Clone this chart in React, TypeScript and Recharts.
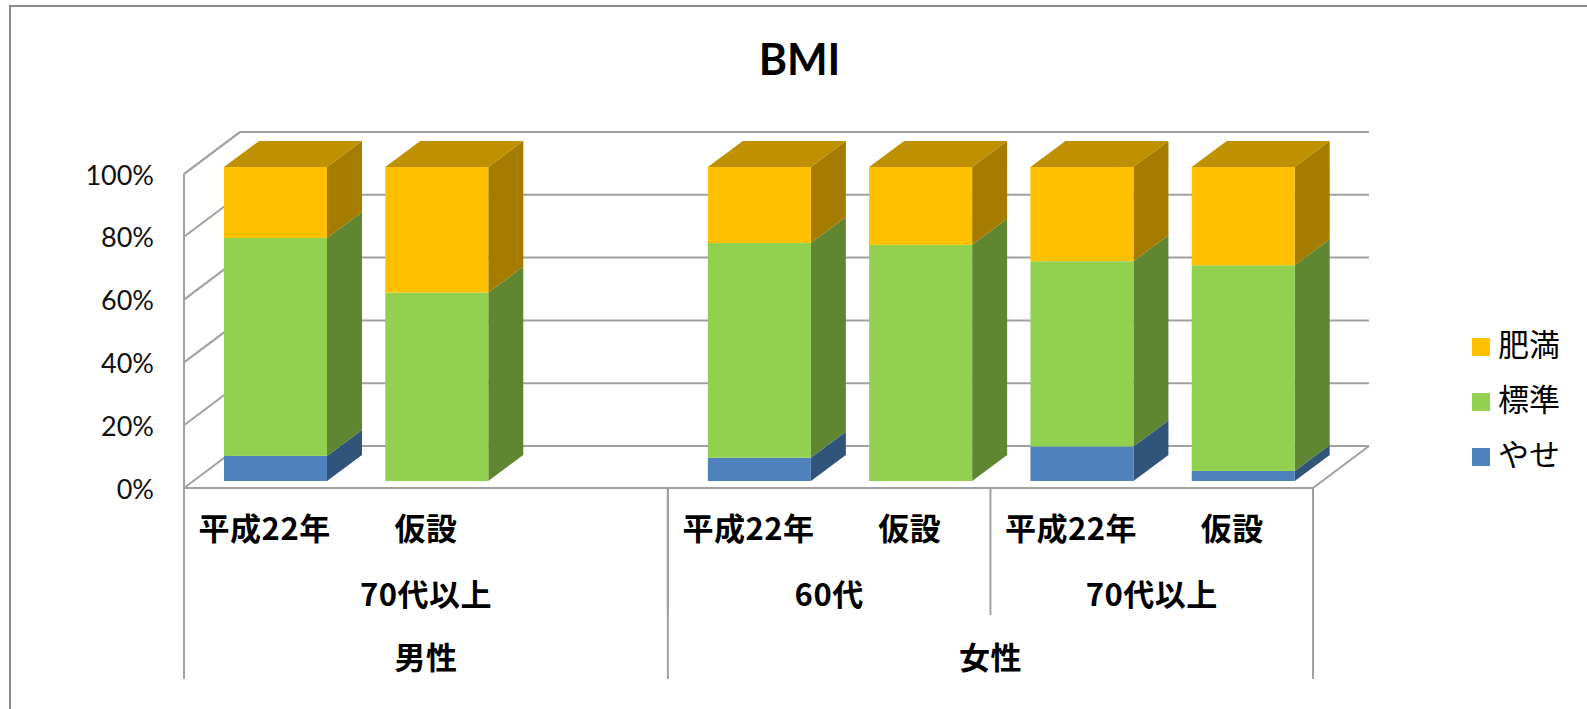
import { BarChart, Bar, XAxis, YAxis, CartesianGrid, Legend } from 'recharts';

const years = ['平成22年', '仮設', '', '平成22年', '仮設', '平成22年', '仮設'];
const yase = [8, 0, null, 7.4, 0, 11, 3.2];
const hyojun = [69.4, 60, null, 68.4, 75.2, 59, 65.5];
const himan = [22.6, 40, null, 24.2, 24.8, 30, 31.3];

const ageGroups = ['70代以上', '60代', '70代以上'];
const ageSpans = [3, 2, 2];
const genderGroups = ['男性', '女性'];
const genderSpans = [3, 4];

const yTicks = [0, 20, 40, 60, 80, 100];

const data = years.map((year, i) => ({
  year,
  やせ: yase[i],
  標準: hyojun[i],
  肥満: himan[i],
}));

const GRID = '#a0a0a0';
const JP = '"Noto Sans CJK JP", sans-serif';
const LATIN = 'Lato, sans-serif';

// floor / wall depth of the fake 3D box
const WALL_DX = 56;
const WALL_DY = 42;
// depth of each column, and how far it sits back from the front edge
const BAR_DX = 35;
const BAR_DY = 26;
const BAR_IN_X = 11;
const BAR_IN_Y = 7;

function Block({ x, y, width, height, fill, side, top }: any) {
  if (!height || height <= 0) return null;
  const l = x + BAR_IN_X;
  const t = y - BAR_IN_Y;
  const r = l + width;
  const b = t + height;
  return (
    <g>
      <polygon
        points={`${r},${t} ${r + BAR_DX},${t - BAR_DY} ${r + BAR_DX},${b - BAR_DY} ${r},${b}`}
        fill={side}
      />
      {top && (
        <polygon
          points={`${l},${t} ${l + BAR_DX},${t - BAR_DY} ${r + BAR_DX},${t - BAR_DY} ${r},${t}`}
          fill={top}
        />
      )}
      <rect x={l} y={t} width={width} height={height} fill={fill} />
    </g>
  );
}

function GridLine(props: any) {
  const { x1, x2, y1, y, height } = props;
  const isFloor = Math.abs(y1 - (y + height)) < 1;
  return (
    <g stroke={GRID} strokeWidth={2} fill="none">
      <line x1={x1} y1={y1} x2={x1 + WALL_DX} y2={y1 - WALL_DY} />
      <line x1={x1 + WALL_DX} y1={y1 - WALL_DY} x2={x2 + WALL_DX} y2={y1 - WALL_DY} />
      {isFloor && <line x1={x2} y1={y1} x2={x2 + WALL_DX} y2={y1 - WALL_DY} />}
    </g>
  );
}

// where a group starting at tick `start` begins, in bands
function groupAt(spans: number[], index: number) {
  let start = 0;
  for (let g = 0; g < spans.length; g++) {
    if (start === index) return g;
    start += spans[g];
  }
  return -1;
}

const labelStyle = { fontFamily: JP, fontSize: 31, fontWeight: 700, fill: '#000', letterSpacing: 0.5 };

// three-level category axis: year, age group, gender
function MultiTick(props: any) {
  const { y, payload, index, width } = props;
  const band = width / years.length;
  const left = payload.coordinate - band / 2;
  const age = groupAt(ageSpans, index);
  const gender = groupAt(genderSpans, index);
  return (
    <g>
      <text x={payload.coordinate} y={y + 38} textAnchor="middle" dominantBaseline="central" {...labelStyle}>
        {payload.value}
      </text>
      {age >= 0 && (
        <>
          <line x1={left} x2={left} y1={y} y2={y + 127} stroke={GRID} strokeWidth={2} />
          <text
            x={left + (ageSpans[age] * band) / 2}
            y={y + 104}
            textAnchor="middle"
            dominantBaseline="central"
            {...labelStyle}
          >
            {ageGroups[age]}
          </text>
        </>
      )}
      {gender >= 0 && (
        <>
          <line x1={left} x2={left} y1={y} y2={y + 191} stroke={GRID} strokeWidth={2} />
          <text
            x={left + (genderSpans[gender] * band) / 2}
            y={y + 167}
            textAnchor="middle"
            dominantBaseline="central"
            {...labelStyle}
          >
            {genderGroups[gender]}
          </text>
        </>
      )}
      {index === years.length - 1 && (
        <line x1={left + band} x2={left + band} y1={y} y2={y + 191} stroke={GRID} strokeWidth={2} />
      )}
    </g>
  );
}

function LegendList({ payload }: any) {
  return (
    <div>
      {[...(payload || [])].reverse().map((item: any) => (
        <div
          key={item.value}
          style={{ display: 'flex', alignItems: 'center', height: 55, fontFamily: JP, fontSize: 31, color: '#000' }}
        >
          <span style={{ width: 18, height: 18, background: item.color, marginRight: 8 }} />
          <span style={{ position: 'relative', top: -4 }}>{item.value}</span>
        </div>
      ))}
    </div>
  );
}

export default function App() {
  return (
    <div style={{ position: 'fixed', left: 0, top: 0, width: 1587, height: 709, background: '#fff', overflow: 'hidden' }}>
      <div
        style={{
          position: 'absolute',
          left: 9,
          top: 5,
          right: 0,
          bottom: 0,
          borderLeft: '2px solid #8c8c8c',
          borderTop: '2px solid #8c8c8c',
        }}
      />
      <div
        style={{
          position: 'absolute',
          left: 6,
          width: 1587,
          top: 34,
          textAlign: 'center',
          fontFamily: LATIN,
          fontWeight: 700,
          fontSize: 43,
          lineHeight: '50px',
          color: '#000',
        }}
      >
        BMI
      </div>
      <BarChart
        width={1587}
        height={709}
        data={data}
        margin={{ top: 174, right: 164, left: 0, bottom: 0 }}
        barSize={103}
        style={{ position: 'absolute', left: 0, top: 0 }}
      >
        <CartesianGrid vertical={false} horizontal={(p: any) => <GridLine key={p.index ?? p.y1} {...p} />} />
        <XAxis
          dataKey="year"
          interval={0}
          height={221}
          tickSize={0}
          tickMargin={0}
          tick={MultiTick}
          axisLine={{ stroke: GRID, strokeWidth: 2 }}
          tickLine={false}
        />
        <YAxis
          width={184}
          domain={[0, 100]}
          ticks={yTicks}
          tickSize={0}
          tickMargin={30}
          tickFormatter={(v: number) => `${v}%`}
          tick={{ fontFamily: LATIN, fontSize: 27, fill: '#111', dy: 1 }}
          axisLine={{ stroke: GRID, strokeWidth: 2 }}
          tickLine={false}
        />
        <Legend
          layout="vertical"
          align="right"
          verticalAlign="top"
          width={110}
          itemSorter={null}
          content={LegendList}
          wrapperStyle={{ left: 1472, top: 319, right: 'auto' }}
        />
        <Bar
          dataKey="やせ"
          stackId="bmi"
          fill="#4f81bd"
          isAnimationActive={false}
          shape={(p: any) => <Block {...p} side="#31547b" />}
        />
        <Bar
          dataKey="標準"
          stackId="bmi"
          fill="#92d050"
          isAnimationActive={false}
          shape={(p: any) => <Block {...p} side="#5f8732" />}
        />
        <Bar
          dataKey="肥満"
          stackId="bmi"
          fill="#ffc000"
          isAnimationActive={false}
          shape={(p: any) => <Block {...p} side="#a57c00" top="#bf9000" />}
        />
      </BarChart>
    </div>
  );
}
